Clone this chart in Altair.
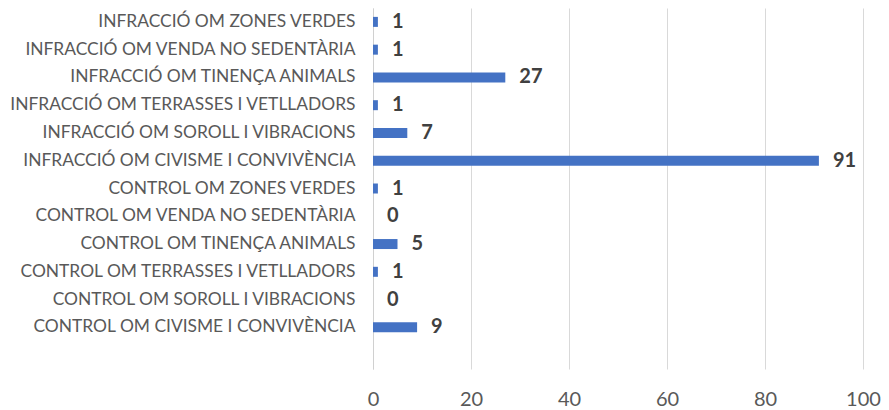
import altair as alt
import pandas as pd

categories = [
    "INFRACCIÓ OM ZONES VERDES",
    "INFRACCIÓ OM VENDA NO SEDENTÀRIA",
    "INFRACCIÓ OM TINENÇA ANIMALS",
    "INFRACCIÓ OM TERRASSES I VETLLADORS",
    "INFRACCIÓ OM SOROLL I VIBRACIONS",
    "INFRACCIÓ OM CIVISME I CONVIVÈNCIA",
    "CONTROL OM ZONES VERDES",
    "CONTROL OM VENDA NO SEDENTÀRIA",
    "CONTROL OM TINENÇA ANIMALS",
    "CONTROL OM TERRASSES I VETLLADORS",
    "CONTROL OM SOROLL I VIBRACIONS",
    "CONTROL OM CIVISME I CONVIVÈNCIA",
]
values = [1, 1, 27, 1, 7, 91, 1, 0, 5, 1, 0, 9]
x_ticks = [0, 20, 40, 60, 80, 100]

df = pd.DataFrame({"cat": categories, "val": values})
domain = categories + [" "]

y = alt.Y("cat:N", sort=domain,
          scale=alt.Scale(domain=domain, paddingInner=0.64, paddingOuter=0.32),
          axis=alt.Axis(title=None, ticks=False, domain=True, domainColor="#d0d0d0",
                        domainWidth=1, labelFont="Lato", labelFontSize=17.4,
                        labelColor="#595959", labelPadding=18, labelLimit=400))
x = alt.X("val:Q", scale=alt.Scale(domain=[0, 100], nice=False),
          axis=alt.Axis(title=None, values=x_ticks, ticks=False, domain=False,
                        grid=True, gridColor="#d9d9d9", labelFont="Lato",
                        labelFontSize=20, labelColor="#595959", labelPadding=20,
                        labelFlush=False))

bars = alt.Chart(df).mark_bar(color="#4472C4").encode(y=y, x=x)
labels = alt.Chart(df).mark_text(align="left", baseline="middle", dx=14,
                                 font="Lato", fontSize=20, fontWeight="bold",
                                 color="#404040").encode(y=y, x=x, text="val:Q")

chart = (bars + labels).properties(
    width=490, height=361,
    autosize=alt.AutoSizeParams(type="none"),
    padding={"left": 365, "top": 0, "right": 18, "bottom": 41},
).configure_view(stroke=None)

chart.save("out.html", embed_options={"renderer": "svg", "actions": False})
